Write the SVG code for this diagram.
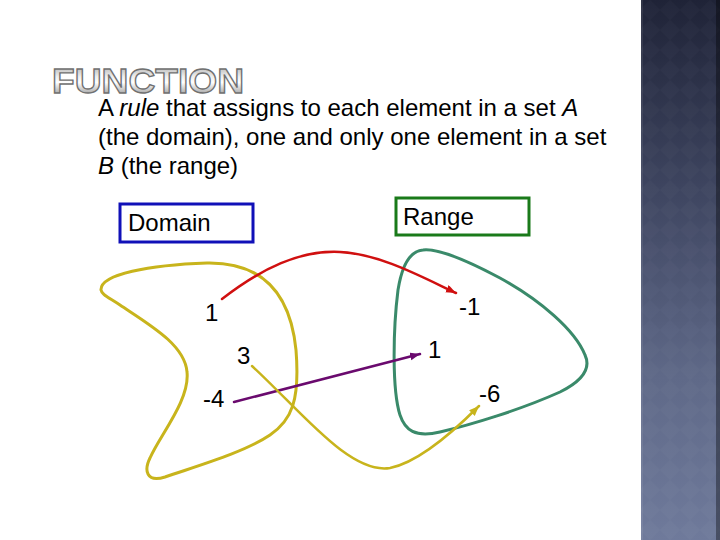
<svg xmlns="http://www.w3.org/2000/svg" width="720" height="540" viewBox="0 0 720 540">
<defs>
<style>
.t{font-family:"Liberation Sans",Arial,sans-serif;font-size:24px;fill:#000}
.loop{fill:none;stroke-width:3;stroke-linejoin:round}
.arr{fill:none;stroke-width:2.5;stroke-linecap:round}
</style>
<linearGradient id="panel" x1="0" y1="0" x2="0" y2="1">
<stop offset="0" stop-color="#1f2337"/>
<stop offset="0.35" stop-color="#3e4560"/>
<stop offset="0.7" stop-color="#5f6988"/>
<stop offset="1" stop-color="#6f7a9b"/>
</linearGradient>
<pattern id="dia" width="20" height="20" patternUnits="userSpaceOnUse">
<path d="M10,0 L20,10 L10,20 L0,10 Z" fill="#ffffff" fill-opacity="0.018"/>
</pattern>
<linearGradient id="metal" x1="0" y1="0" x2="0" y2="1">
<stop offset="0" stop-color="#9a9a9a"/>
<stop offset="0.4" stop-color="#eeeeee"/>
<stop offset="0.55" stop-color="#ffffff"/>
<stop offset="0.8" stop-color="#b4b4b4"/>
<stop offset="1" stop-color="#7c7c7c"/>
</linearGradient>
<marker id="mRed" markerUnits="userSpaceOnUse" markerWidth="12" markerHeight="10" refX="10" refY="4" orient="auto"><path d="M0,0 L10,4 L0,8 Z" fill="#d01010"/></marker>
<marker id="mPur" markerUnits="userSpaceOnUse" markerWidth="12" markerHeight="10" refX="10" refY="4" orient="auto"><path d="M0,0 L10,4 L0,8 Z" fill="#6a0a6e"/></marker>
<marker id="mYel" markerUnits="userSpaceOnUse" markerWidth="12" markerHeight="10" refX="10" refY="4" orient="auto"><path d="M0,0 L10,4 L0,8 Z" fill="#c8b41c"/></marker>
</defs>
<rect x="0" y="0" width="720" height="540" fill="#ffffff"/>
<g id="side-panel">
<rect x="641" y="0" width="79" height="540" fill="url(#panel)"/>
<rect x="641" y="0" width="79" height="540" fill="url(#dia)"/>
<rect x="641" y="0" width="2" height="540" fill="#ffffff" fill-opacity="0.08"/>
<rect x="716" y="0" width="4" height="540" fill="#000000" fill-opacity="0.35"/>
</g>
<g id="title">
<text x="52" y="93" font-family="'Liberation Sans',Arial,sans-serif" font-weight="bold" font-size="35" textLength="192" lengthAdjust="spacingAndGlyphs" fill="url(#metal)" stroke="#707070" stroke-width="1.3">FUNCTION</text>
</g>
<g id="definition">
<text class="t" x="98" y="116">A <tspan font-style="italic">rule</tspan> that assigns to each element in a set <tspan font-style="italic">A</tspan></text>
<text class="t" x="98" y="145">(the domain), one and only one element in a set</text>
<text class="t" x="98" y="174"><tspan font-style="italic">B</tspan> (the range)</text>
</g>
<g id="domain-box">
<rect x="120" y="204" width="133" height="38" fill="#ffffff" stroke="#1010b8" stroke-width="3"/>
<text class="t" x="128" y="231">Domain</text>
</g>
<g id="range-box">
<rect x="396" y="198" width="133" height="37" fill="#ffffff" stroke="#1a7a1a" stroke-width="3"/>
<text class="t" x="403" y="225">Range</text>
</g>
<g id="domain-set">
<path class="loop" stroke="#c8b41c" d="M101,290 C100,274 150,265 207,263 C260,262 290,290 296,350 C300,400 292,420 270,435 C245,452 200,465 165,477 C146,483 144,470 150,458 C160,435 190,400 187,372 C185,345 150,325 120,305 C108,297 102,295 101,290 Z"/>
</g>
<g id="range-set">
<path class="loop" stroke="#3a8a6a" d="M423,250 C440,248 470,262 500,278 C540,300 575,330 585,355 C592,370 580,382 560,392 C520,410 470,425 440,432 C415,438 405,430 400,415 C392,390 393,330 398,290 C402,265 410,251 423,250 Z"/>
</g>
<g id="domain-values">
<text class="t" x="205" y="321">1</text>
<text class="t" x="237" y="364">3</text>
<text class="t" x="203" y="407">-4</text>
</g>
<g id="range-values">
<text class="t" x="459" y="315">-1</text>
<text class="t" x="428" y="358">1</text>
<text class="t" x="479" y="402">-6</text>
</g>
<g id="connectors">
<path class="arr" stroke="#d01010" marker-end="url(#mRed)" d="M222,299 C262,268 300,250 340,252 C380,254 420,276 456,293"/>
<path class="arr" stroke="#6a0a6e" marker-end="url(#mPur)" d="M234,402 L420,354"/>
<path class="arr" stroke="#c8b41c" marker-end="url(#mYel)" d="M252,366 C300,410 350,475 390,468 C420,462 455,430 479,406"/>
</g>
</svg>
